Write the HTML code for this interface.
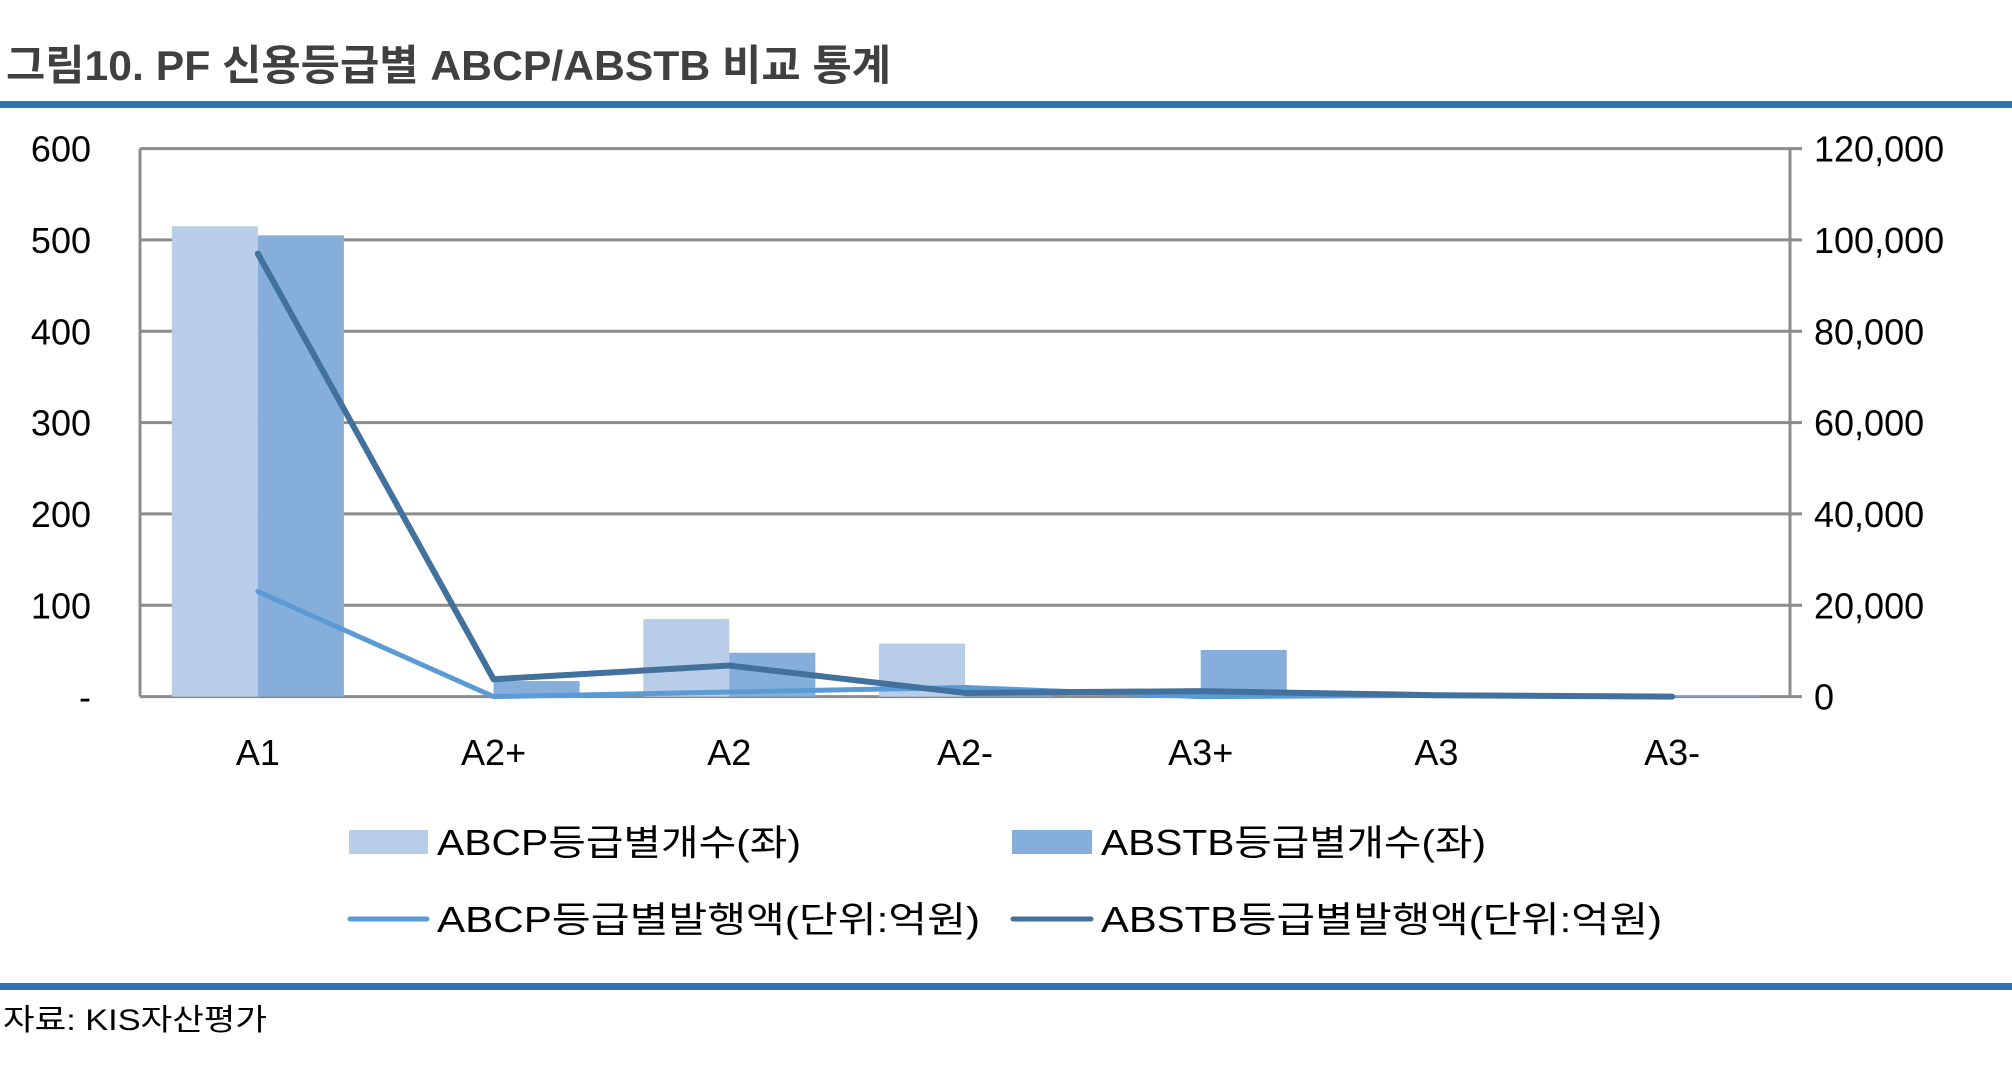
<!DOCTYPE html>
<html><head><meta charset="utf-8"><style>
html,body{margin:0;padding:0;background:#fff;}
svg{display:block;font-family:"Liberation Sans","Noto Sans CJK KR",sans-serif;}
</style></head><body>
<svg id="chart" width="2012" height="1066" viewBox="0 0 2012 1066">
<text x="6" y="80" font-size="42" font-weight="bold" fill="#404040" textLength="885" lengthAdjust="spacingAndGlyphs">그림10. PF 신용등급별 ABCP/ABSTB 비교 통계</text>
<rect x="0" y="101" width="2012" height="7" fill="#2E74B5"/>
<g id="plot"></g>
<g id="legend">
<rect x="349" y="830" width="79" height="24" fill="#B8CEE8"/>
<text x="437" y="855" font-size="36" fill="#000" textLength="364" lengthAdjust="spacingAndGlyphs">ABCP등급별개수(좌)</text>
<rect x="1012" y="830" width="80" height="24" fill="#85AEDB"/>
<text x="1101" y="855" font-size="36" fill="#000" textLength="385" lengthAdjust="spacingAndGlyphs">ABSTB등급별개수(좌)</text>
<line x1="350" y1="919" x2="427" y2="919" stroke="#5B9BD5" stroke-width="5" stroke-linecap="round"/>
<text x="437" y="932" font-size="36" fill="#000" textLength="543" lengthAdjust="spacingAndGlyphs">ABCP등급별발행액(단위:억원)</text>
<line x1="1013" y1="919" x2="1091" y2="919" stroke="#41719C" stroke-width="5" stroke-linecap="round"/>
<text x="1101" y="932" font-size="36" fill="#000" textLength="561" lengthAdjust="spacingAndGlyphs">ABSTB등급별발행액(단위:억원)</text>
</g>
<rect x="0" y="983" width="2012" height="7" fill="#2E74B5"/>
<text x="3" y="1030" font-size="30" fill="#000" textLength="264" lengthAdjust="spacingAndGlyphs">자료: KIS자산평가</text>
</svg>
<script>
const categories = ["A1","A2+","A2","A2-","A3+","A3","A3-"];
const abcpCount = [515, 0, 85, 58, 0, 0, 0];
const abstbCount = [505, 17, 48, 2, 51, 0, 1];
const abcpAmount = [23000, 0, 1000, 2000, 0, 300, 0];
const abstbAmount = [97000, 3800, 6800, 800, 1200, 300, 0];
const leftTicks = [0, 100, 200, 300, 400, 500, 600];
const leftTickLabels = ["-", "100", "200", "300", "400", "500", "600"];
const rightTicks = [0, 20000, 40000, 60000, 80000, 100000, 120000];
const rightTickLabels = ["0", "20,000", "40,000", "60,000", "80,000", "100,000", "120,000"];

const NS = "http://www.w3.org/2000/svg";
const g = document.getElementById("plot");
const L = 140, R = 1790, T = 148.6, B = 696.6;
const band = (R - L) / categories.length;
const yL = v => B - (v / 600) * (B - T);
const yR = v => B - (v / 120000) * (B - T);
const xC = i => L + band * (i + 0.5);
function mk(tag, attrs) { const e = document.createElementNS(NS, tag); for (const k in attrs) e.setAttribute(k, attrs[k]); g.appendChild(e); return e; }

leftTicks.forEach((v, i) => {
  const y = yL(v);
  const ln = mk("line", {x1: L, y1: y, x2: R + 12, y2: y, stroke: "#8C8C8C", "stroke-width": 3});
  
  
  const t = mk("text", {x: 91, y: y + 13, "font-size": 36, "text-anchor": "end", fill: "#000"});
  t.textContent = leftTickLabels[i];
  
  
});
rightTicks.forEach((v, i) => {
  const t = mk("text", {x: 1814, y: yR(v) + 13, "font-size": 36, fill: "#000"});
  t.textContent = rightTickLabels[i];
  
  
});
const la = mk("line", {x1: L, y1: T, x2: L, y2: B, stroke: "#8C8C8C", "stroke-width": 3});


const ra = mk("line", {x1: R, y1: T, x2: R, y2: B, stroke: "#8C8C8C", "stroke-width": 3});



const bw = band * 0.365;
categories.forEach((c, i) => {
  const x = xC(i);
  const b1 = mk("rect", {x: x - bw, y: yL(abcpCount[i]), width: bw, height: B - yL(abcpCount[i]), fill: "#B8CEE8"});
  
  
  const b2 = mk("rect", {x: x, y: yL(abstbCount[i]), width: bw, height: B - yL(abstbCount[i]), fill: "#85AEDB"});
  
  
  const t = mk("text", {x: x, y: 765, "font-size": 36, "text-anchor": "middle", fill: "#000"});
  t.textContent = c;
  
  
});
const p1 = mk("polyline", {points: abcpAmount.map((v, i) => xC(i) + "," + yR(v)).join(" "), fill: "none", stroke: "#5B9BD5", "stroke-width": 5, "stroke-linejoin": "round", "stroke-linecap": "round"});


const p2 = mk("polyline", {points: abstbAmount.map((v, i) => xC(i) + "," + yR(v)).join(" "), fill: "none", stroke: "#41719C", "stroke-width": 6, "stroke-linejoin": "round", "stroke-linecap": "round"});


</script>
</body></html>
